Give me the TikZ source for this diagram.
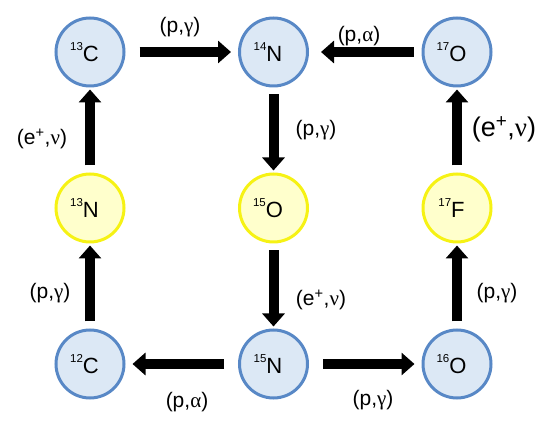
\documentclass[tikz,border=0pt]{standalone}
\usepackage{fontspec}
\setmainfont{Liberation Sans}
\newfontfamily\greekfont{Liberation Serif}
\usetikzlibrary{positioning,arrows.meta}

\definecolor{bordblue}{RGB}{88,136,198}
\definecolor{fillblue}{RGB}{220,232,245}
\definecolor{bordyellow}{RGB}{246,242,20}
\definecolor{fillyellow}{RGB}{255,255,204}

\newcommand{\nuc}[2]{\raisebox{11pt}{\fontsize{11.5}{12}\selectfont #1}#2\kern11pt}
\newcommand{\reac}[2]{(#1,{\greekfont #2})}

\begin{document}
\begin{tikzpicture}[x=1pt, y=-1pt, node distance=156pt and 183.5pt, on grid]
  \tikzstyle{nucleus}=[circle, minimum size=68pt, line width=3pt, inner sep=0pt, font=\fontsize{22}{24}\selectfont]
  \tikzstyle{stable}=[nucleus, draw=bordblue, fill=fillblue]
  \tikzstyle{unstable}=[nucleus, draw=bordyellow, fill=fillyellow]
  \tikzstyle{harrow}=[line width=10pt, -{Triangle[length=13pt,width=22pt]}, shorten <=14pt, shorten >=7pt]
  \tikzstyle{varrow}=[line width=10pt, -{Triangle[length=13pt,width=22pt]}, shorten <=7pt, shorten >=2pt]
  \tikzstyle{reaction}=[font=\fontsize{21}{24}\selectfont, inner sep=0pt]

  \useasboundingbox (0,0) rectangle (555,430);

  \node[stable] (c13) at (90,52) {\nuc{13}{C}};
  \node[stable, right=of c13] (n14) {\nuc{14}{N}};
  \node[stable, right=of n14] (o17) {\nuc{17}{O}};
  \node[unstable, below=of c13] (n13) {\nuc{13}{N}};
  \node[unstable, below=of n14] (o15) {\nuc{15}{O}};
  \node[unstable, below=of o17] (f17) {\nuc{17}{F}};
  \node[stable, below=of n13] (c12) {\nuc{12}{C}};
  \node[stable, below=of o15] (n15) {\nuc{15}{N}};
  \node[stable, below=of f17] (o16) {\nuc{16}{O}};

  \draw[harrow] (c13) -- (n14);
  \draw[harrow, shorten <=8pt, shorten >=12pt] (o17) -- (n14);
  \draw[varrow] (n14) -- (o15);
  \draw[varrow] (o15) -- (n15);
  \draw[harrow] (n15) -- (c12);
  \draw[harrow] (n15) -- (o16);
  \draw[varrow] (c12) -- (n13);
  \draw[varrow] (n13) -- (c13);
  \draw[varrow] (o16) -- (f17);
  \draw[varrow] (f17) -- (o17);

  \node[reaction] (r1) at (180,27) {\reac{p}{γ}};
  \node[reaction] (r2) at (359,36) {\reac{p}{α}};
  \node[reaction] (r3) at (42,139) {\reac{e\textsuperscript{+}}{ν}};
  \node[reaction] (r4) at (316,130) {\reac{p}{γ}};
  \node[reaction, font=\fontsize{27}{30}\selectfont] (r5) at (504,129) {\reac{e\textsuperscript{+}}{ν}};
  \node[reaction] (r6) at (50,293) {\reac{p}{γ}};
  \node[reaction] (r7) at (321,300) {\reac{e\textsuperscript{+}}{ν}};
  \node[reaction] (r8) at (497,293) {\reac{p}{γ}};
  \node[reaction] (r9) at (187,402) {\reac{p}{α}};
  \node[reaction] (r10) at (373,400) {\reac{p}{γ}};
\end{tikzpicture}
\end{document}
